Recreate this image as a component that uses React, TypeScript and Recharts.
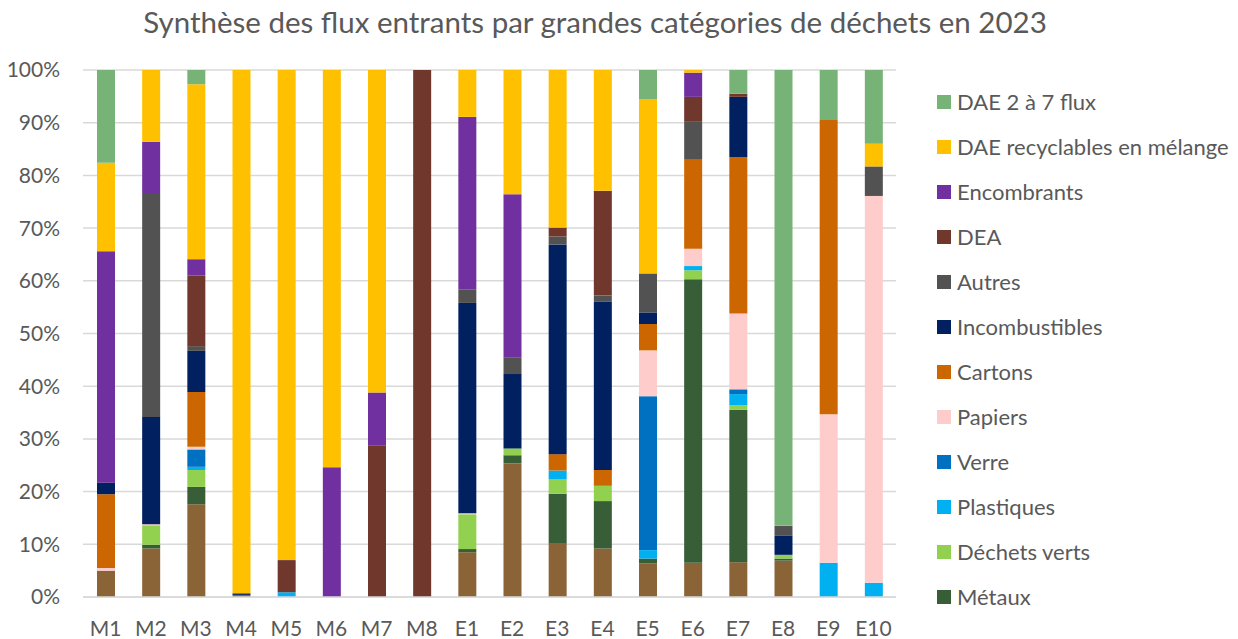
import React from 'react';
import { BarChart, Bar, XAxis, YAxis, CartesianGrid, Legend } from 'recharts';

// categories (sites)
const categories = ['M1', 'M2', 'M3', 'M4', 'M5', 'M6', 'M7', 'M8', 'E1', 'E2', 'E3', 'E4', 'E5', 'E6', 'E7', 'E8', 'E9', 'E10'];

// share of each flow per site, in %, bottom of the stack first
const bois = [5.0, 9.2, 17.6, 0.4, 0, 0, 0, 0, 8.5, 25.4, 10.1, 9.2, 6.4, 6.5, 6.6, 6.9, 0, 0];
const metaux = [0, 0.7, 3.3, 0, 0, 0, 0, 0, 0.6, 1.5, 9.5, 9.0, 0.9, 53.8, 28.9, 0.4, 0, 0];
const dechetsVerts = [0, 3.7, 3.2, 0, 0, 0, 0, 0, 6.6, 1.3, 2.7, 2.9, 0, 1.7, 0.9, 0.7, 0, 0];
const plastiques = [0, 0, 0.6, 0, 0.9, 0, 0, 0, 0, 0, 1.7, 0, 1.6, 0.8, 2.1, 0, 6.5, 2.7];
const verre = [0, 0, 3.3, 0, 0, 0, 0, 0, 0, 0, 0, 0, 29.2, 0, 0.9, 0, 0, 0];
const papiers = [0.5, 0.2, 0.5, 0, 0, 0, 0, 0, 0.2, 0, 0, 0, 8.7, 3.3, 14.4, 0, 28.2, 73.4];
const cartons = [14.0, 0, 10.4, 0, 0, 0, 0, 0, 0, 0, 3.1, 3.0, 5.0, 17.0, 29.7, 0, 55.8, 0];
const incombustibles = [2.2, 20.3, 7.8, 0.3, 0, 0, 0, 0, 39.9, 14.1, 39.8, 31.9, 2.2, 0, 11.4, 3.6, 0, 0];
const autres = [0, 42.3, 0.9, 0, 0, 0, 0, 0, 2.5, 3.2, 1.5, 1.2, 7.4, 7.2, 0, 1.9, 0, 5.6];
const dea = [0, 0, 13.4, 0, 6.1, 0, 28.8, 100, 0, 0, 1.7, 19.9, 0, 4.6, 0.6, 0, 0, 0];
const encombrants = [43.9, 9.9, 3.1, 0, 0, 24.6, 10.0, 0, 32.8, 30.9, 0, 0, 0, 4.6, 0, 0, 0, 0];
const daeMelange = [16.8, 13.6, 33.2, 99.3, 93.0, 75.4, 61.2, 0, 8.9, 23.6, 29.9, 22.9, 33.1, 0.5, 0, 0, 0, 4.3];
const dae2a7 = [17.6, 0, 2.7, 0, 0, 0, 0, 0, 0, 0, 0, 0, 5.5, 0, 4.5, 86.5, 9.5, 14.0];

const yTicks = [0, 0.1, 0.2, 0.3, 0.4, 0.5, 0.6, 0.7, 0.8, 0.9, 1];

const series = [
  { key: 'bois', name: 'Bois', color: '#8A6437', values: bois, legend: false },
  { key: 'metaux', name: 'Métaux', color: '#375E37', values: metaux, legend: true },
  { key: 'dechetsVerts', name: 'Déchets verts', color: '#92D050', values: dechetsVerts, legend: true },
  { key: 'plastiques', name: 'Plastiques', color: '#00B0F0', values: plastiques, legend: true },
  { key: 'verre', name: 'Verre', color: '#0070C0', values: verre, legend: true },
  { key: 'papiers', name: 'Papiers', color: '#FFCCCC', values: papiers, legend: true },
  { key: 'cartons', name: 'Cartons', color: '#CC6600', values: cartons, legend: true },
  { key: 'incombustibles', name: 'Incombustibles', color: '#002060', values: incombustibles, legend: true },
  { key: 'autres', name: 'Autres', color: '#525252', values: autres, legend: true },
  { key: 'dea', name: 'DEA', color: '#70372D', values: dea, legend: true },
  { key: 'encombrants', name: 'Encombrants', color: '#7030A0', values: encombrants, legend: true },
  { key: 'daeMelange', name: 'DAE recyclables en mélange', color: '#FFC000', values: daeMelange, legend: true },
  { key: 'dae2a7', name: 'DAE 2 à 7 flux', color: '#77B377', values: dae2a7, legend: true },
];

const data = categories.map((name, i) => {
  const row: Record<string, string | number> = { name };
  series.forEach(s => { row[s.key] = s.values[i]; });
  return row;
});

const textColor = '#595959';
const font = 'Lato, "Open Sans", sans-serif';

const renderLegend = () => {
  const items = series.filter(s => s.legend).reverse();
  return (
    <div style={{ fontFamily: font, fontSize: 22, color: textColor }}>
      {items.map(item => (
        <div key={item.key} style={{ height: 45, display: 'flex', alignItems: 'center' }}>
          <span style={{ width: 14, height: 14, background: item.color, display: 'inline-block', marginRight: 6 }} />
          <span style={{ whiteSpace: 'nowrap' }}>{item.name}</span>
        </div>
      ))}
    </div>
  );
};

const App: React.FC = () => {
  return (
    <div style={{ position: 'absolute', left: 0, top: 0, width: 1238, height: 639, background: 'white' }}>
      <div
        style={{
          position: 'absolute',
          left: 0,
          top: 7,
          width: 1190,
          textAlign: 'center',
          fontFamily: font,
          fontSize: 29.5,
          lineHeight: '30px',
          color: textColor,
        }}
      >
        Synthèse des flux entrants par grandes catégories de déchets en 2023
      </div>
      <BarChart
        width={1238}
        height={639}
        data={data}
        stackOffset="expand"
        barSize={18}
        margin={{ top: 70, right: 342, bottom: 0, left: 0 }}
      >
        <CartesianGrid vertical={false} stroke="#d9d9d9" strokeWidth={1.5} />
        <XAxis
          dataKey="name"
          stroke="#d9d9d9"
          strokeWidth={1.5}
          tickLine={false}
          tickSize={0}
          tickMargin={24}
          height={42}
          interval={0}
          tick={{ fill: textColor, fontSize: 21, fontFamily: font }}
        />
        <YAxis
          width={83}
          domain={[0, 1]}
          ticks={yTicks}
          axisLine={false}
          tickLine={false}
          tickSize={0}
          tickMargin={23}
          tickFormatter={(v: number) => `${Math.round(v * 100)}%`}
          tick={{ fill: textColor, fontSize: 21, fontFamily: font }}
        />
        <Legend
          layout="vertical"
          align="center"
          verticalAlign="middle"
          content={renderLegend}
          wrapperStyle={{ left: 937, top: 79, width: 300 }}
        />
        {series.map(s => (
          <Bar
            key={s.key}
            dataKey={s.key}
            name={s.name}
            stackId="flux"
            fill={s.color}
            isAnimationActive={false}
          />
        ))}
      </BarChart>
    </div>
  );
};

export default App;
